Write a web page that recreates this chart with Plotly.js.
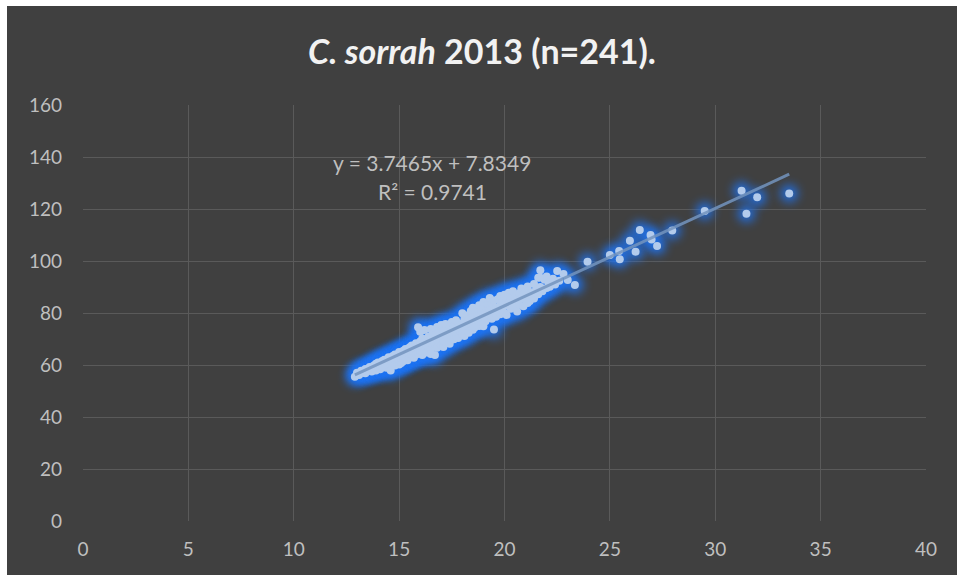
<!DOCTYPE html>
<html>
<head>
<meta charset="utf-8">
<script src="https://cdn.plot.ly/plotly-3.0.1.min.js"></script>
<style>
html,body{margin:0;padding:0;background:#ffffff;width:957px;height:575px;overflow:hidden;}
#chart{position:absolute;left:7px;top:6px;width:950px;height:569px;}
.glowlayer path.point{filter:blur(5px);}
</style>
</head>
<body>
<div id="chart"></div>
<script>
// Scatter data (x, y)
const xVals = [
12.9,13.0,13.1,13.2,13.3,13.4,13.4,13.5,13.6,13.6,13.7,13.8,13.8,13.9,13.9,14.0,14.0,14.1,14.1,14.2,
14.2,14.3,14.3,14.4,14.4,14.5,14.5,14.5,14.6,14.6,14.7,14.7,14.8,14.8,14.8,14.9,14.9,15.0,15.0,15.0,15.0,15.1,15.1,15.1,15.2,
15.2,15.2,15.3,15.3,15.3,15.4,15.4,15.4,15.5,15.5,15.5,15.6,15.6,15.6,15.7,15.7,15.7,15.8,15.8,15.8,15.9,15.9,15.9,16.0,16.0,16.0,16.0,16.1,
16.1,16.1,16.2,16.2,16.2,16.3,16.3,16.3,16.4,16.4,16.4,16.5,16.5,16.5,16.6,16.6,16.6,16.7,16.7,16.7,16.8,16.8,16.8,16.9,16.9,17.0,17.0,17.0,
17.1,17.1,17.1,17.2,17.2,17.2,17.3,17.3,17.4,17.4,17.4,17.5,17.5,17.5,17.6,17.6,17.7,17.7,17.7,17.8,17.8,17.9,17.9,18.0,18.0,18.0,18.1,
18.1,18.1,18.2,18.2,18.3,18.3,18.3,18.4,18.4,18.5,18.5,18.5,18.6,18.6,18.7,18.7,18.7,18.8,18.8,18.8,18.9,18.9,19.0,19.0,19.0,19.1,19.1,
19.2,19.2,19.3,19.3,19.4,19.4,19.5,19.5,19.5,19.6,19.6,19.7,19.7,19.8,19.8,19.8,19.9,19.9,20.0,20.0,20.0,20.1,20.1,20.2,20.2,
20.3,20.3,20.4,20.4,20.5,20.5,20.6,20.6,20.7,20.7,20.8,20.8,20.9,20.9,21.0,21.0,21.1,21.1,21.2,21.2,21.3,21.4,
21.4,21.5,21.6,21.6,21.7,21.7,21.8,21.9,22.0,22.0,22.1,22.15,22.3,22.5,22.4,22.6,
21.68,22.8,16.5,14.6,19.0,
23.0,23.34,23.94,25.0,25.44,25.47,25.95,26.22,26.42,26.93,26.98,27.24,27.96,29.5,31.25,31.99,31.48,33.51
];
const yVals = [
55.5,57.0,56.2,57.8,57.0,58.5,56.8,57.9,59.2,58.0,57.5,59.8,58.6,60.5,57.9,59.2,61.0,58.4,60.2,61.5,
59.0,60.6,62.0,58.9,61.3,60.0,62.4,63.0,59.6,61.8,60.7,63.5,62.2,59.8,64.0,61.0,62.8,60.2,63.6,65.0,61.9,64.2,60.8,62.6,63.1,
65.5,61.4,64.0,62.1,66.2,63.3,65.0,61.8,64.6,66.8,62.9,65.4,63.6,67.5,64.2,66.0,62.8,68.4,65.1,63.9,66.7,64.5,74.5,67.2,65.0,72.8,69.0,63.8,
66.5,70.2,68.0,65.6,73.5,67.4,69.8,64.8,71.0,66.9,68.6,73.8,65.9,70.4,67.8,72.2,69.3,63.8,71.5,68.2,74.6,70.0,66.6,72.8,68.9,71.2,67.5,75.4,
69.6,73.2,66.9,71.8,75.8,68.8,73.0,70.5,74.6,68.2,72.0,76.5,70.8,73.6,69.9,75.0,72.6,77.2,71.2,74.2,70.4,76.0,73.0,79.9,72.0,75.6,77.8,
73.8,71.2,76.4,79.0,74.6,72.4,77.6,80.8,75.8,73.6,78.4,82.0,76.6,74.5,79.6,81.8,77.2,75.0,83.0,78.8,80.6,76.2,82.4,78.0,84.2,80.0,76.8,
83.4,79.2,85.8,81.4,77.8,83.6,73.7,80.2,84.8,82.0,78.6,85.4,80.8,83.0,79.5,86.5,81.6,84.4,80.0,87.0,82.8,85.2,79.2,83.8,87.8,
81.6,85.6,84.0,88.4,82.4,86.2,84.8,80.6,87.6,83.2,85.6,89.4,82.6,87.0,85.0,88.6,83.8,90.2,86.8,84.6,88.0,91.2,
85.6,88.8,93.6,87.2,96.4,90.0,88.4,92.8,89.6,94.0,91.6,90.1,93.2,96.2,91.0,92.4,
93.7,95.0,64.2,57.9,74.9,
92.7,90.8,99.7,102.3,103.8,100.7,107.8,103.6,111.9,110.0,108.3,105.8,111.7,119.2,127.0,124.5,118.2,126.0
];
// Trendline reported on the chart
const slope = [3.7465];
const intercept = [7.8349];
const rSquared = ["0.9741"];
const xTicks = [0,5,10,15,20,25,30,35,40];
const yTicks = [0,20,40,60,80,100,120,140,160];

const xMin = Math.min(...xVals), xMax = Math.max(...xVals);
const trendX = [xMin, xMax];
const trendY = trendX.map(v => slope[0]*v + intercept[0]);

const txtColor = '#bfbfbf';
const font = 'Lato, "Open Sans", sans-serif';

const traces = [
  {x:xVals, y:yVals, type:'scatter', mode:'markers', hoverinfo:'skip',
   marker:{size:18, color:'#1f74f2', opacity:0.8, line:{width:0}}},
  {x:xVals, y:yVals, type:'scatter', mode:'markers',
   marker:{size:8, color:'#b3cbec', line:{width:0}}},
  {x:trendX, y:trendY, type:'scatter', mode:'lines',
   line:{color:'rgba(115,148,190,0.85)', width:3}}
];

const layout = {
  width:950, height:569,
  paper_bgcolor:'#404040', plot_bgcolor:'#404040',
  margin:{l:76, r:31, t:99, b:54},
  showlegend:false,
  title:{text:'<i>C. sorrah</i> 2013 (n=241).', x:0.5, xanchor:'center', y:0.919, yanchor:'middle',
         font:{family:font, size:34, color:'#f2f2f2', weight:'bold'}},
  xaxis:{range:[0,40], tickvals:xTicks, ticktext:xTicks.map(String), showgrid:true,
         gridcolor:'#5a5a5a', gridwidth:1, zeroline:false, showline:false, ticks:'',
         tickfont:{family:font, size:19, color:txtColor}, ticklabelstandoff:15, fixedrange:true},
  yaxis:{range:[0,160], tickvals:yTicks, ticktext:yTicks.map(String), showgrid:true,
         gridcolor:'#5a5a5a', gridwidth:1, zeroline:false, showline:false, ticks:'',
         tickfont:{family:font, size:19, color:txtColor}, ticklabelstandoff:20, fixedrange:true},
  annotations:[
    {x:16.56, y:137.7, xref:'x', yref:'y', showarrow:false,
     text:'y = ' + slope[0] + 'x + ' + intercept[0],
     font:{family:font, size:21, color:txtColor}},
    {x:16.56, y:126.9, xref:'x', yref:'y', showarrow:false,
     text:'R² = ' + rSquared[0],
     font:{family:font, size:21, color:txtColor}}
  ]
};

Plotly.newPlot('chart', traces, layout, {displayModeBar:false, staticPlot:true}).then(() => {
  const tr = document.querySelectorAll('#chart .scatterlayer .trace');
  if (tr[0]) tr[0].classList.add('glowlayer');
});
</script>
</body>
</html>
